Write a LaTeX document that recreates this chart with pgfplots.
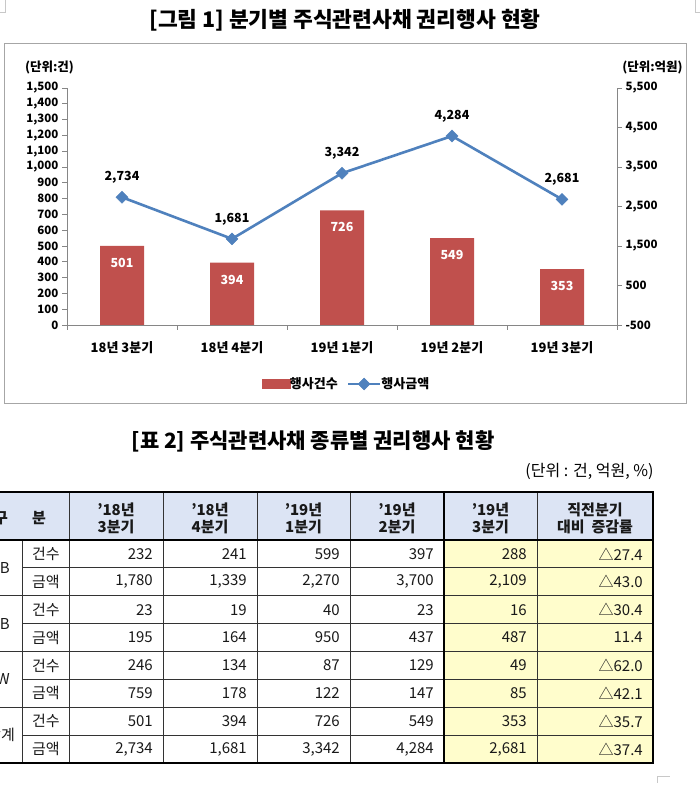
\documentclass[border=0pt]{standalone}
\usepackage{pgfplots}
\pgfplotsset{compat=1.18}
\usepackage{fontspec}
\setmainfont{Noto Sans CJK KR}

\definecolor{barred}{HTML}{C0504D}
\definecolor{lineblue}{HTML}{4F81BD}
\definecolor{axisgray}{HTML}{868686}
\definecolor{framegray}{HTML}{A6A6A6}
\definecolor{headblue}{HTML}{DCE4F4}
\definecolor{hiyellow}{HTML}{FFFDCC}
\definecolor{cornergray}{HTML}{C8C8C8}

\newcommand{\fs}[1]{\fontsize{#1}{#1}\selectfont}

\pgfplotsset{
  amountlegend/.style={
    legend image code/.code={%
      \draw[mark repeat=2, mark phase=2, ##1]
        plot coordinates {(0pt,0pt) (16pt,0pt) (32pt,0pt)};}},
  countlegend/.style={
    legend image code/.code={%
      \fill[barred] (0pt,-4.5pt) rectangle (28pt,4.5pt);}},
}

% one body row of the table: y centre, row label, six values
\newcommand{\trow}[8]{%
  \node at (45.85pt,#1pt) {#2};
  \node[anchor=east] at (153pt,#1pt) {#3};
  \node[anchor=east] at (247pt,#1pt) {#4};
  \node[anchor=east] at (340pt,#1pt) {#5};
  \node[anchor=east] at (434pt,#1pt) {#6};
  \node[anchor=east] at (527pt,#1pt) {#7};
  \node[anchor=east] at (643pt,#1pt) {#8};
}

\begin{document}
\begin{tikzpicture}[x=1pt,y=1pt]
\path[use as bounding box, fill=white] (0,0) rectangle (700,799);
\begin{scope}
\clip (0,0) rectangle (700,799);

% page corner marks
\draw[cornergray, line width=0.8pt] (0,787) -- (5,787) -- (5,799);
\draw[cornergray, line width=0.8pt] (695,799) -- (695,787) -- (700,787);
\draw[cornergray, line width=0.8pt] (657,16) -- (657,23) -- (670,23);

% ---------------- figure ----------------
\node[font=\bfseries\fs{21.5}] at (345,779) {[그림 1] 분기별 주식관련사채 권리행사 현황};
\draw[framegray, line width=1pt] (4,395) rectangle (686,755);

\node[font=\bfseries\fs{12.5}] at (49.5,731) {(단위:건)};
\node[font=\bfseries\fs{12.5}] at (652.5,731) {(단위:억원)};

\pgfplotsset{
  /pgf/number format/assume math mode=true,
  /pgf/number format/1000 sep={,},
}

% exercise counts (left axis)
\begin{axis}[
  at={(67pt,474pt)}, anchor=south west,
  scale only axis, width=550pt, height=237pt,
  xmin=-0.5, xmax=4.5, ymin=0, ymax=1500,
  axis x line*=bottom, axis y line*=left,
  axis line style={draw=axisgray, line width=0.8pt},
  tick align=outside,
  major tick length=5pt, minor tick length=5pt,
  ytick={0,100,...,1500},
  y tick style={draw=axisgray, line width=0.8pt},
  scaled y ticks=false,
  yticklabel style={font=\bfseries\fs{11.5}, text=black},
  xtick={0,1,2,3,4},
  xticklabels={18년 3분기, 18년 4분기, 19년 1분기, 19년 2분기, 19년 3분기},
  major x tick style={draw=none},
  minor xtick={-0.5,0.5,1.5,2.5,3.5,4.5},
  minor x tick style={draw=axisgray, line width=0.8pt},
  xticklabel style={font=\bfseries\fs{13}, text=black, yshift=-8pt},
  clip=false,
]
\addplot[ybar, bar width=44pt, fill=barred, draw=none,
  nodes near coords,
  nodes near coords style={font=\bfseries\fs{12.5}, text=white, anchor=center, yshift=-17pt}]
  coordinates {(0,501) (1,394) (2,726) (3,549) (4,353)};
\end{axis}

% exercise amounts (right axis)
\begin{axis}[
  at={(67pt,474pt)}, anchor=south west,
  scale only axis, width=550pt, height=237pt,
  xmin=-0.5, xmax=4.5, ymin=-500, ymax=5500,
  axis x line=none, axis y line*=right,
  axis line style={draw=axisgray, line width=0.8pt},
  tick align=outside, major tick length=5pt,
  ytick={-500,500,...,5500},
  y tick style={draw=axisgray, line width=0.8pt},
  scaled y ticks=false,
  yticklabel style={font=\bfseries\fs{11.5}, text=black},
  xtick=\empty,
  clip=false,
  legend style={at={(0.508,-0.249)}, anchor=center, draw=none, fill=none,
    font=\bfseries\fs{13}, legend columns=-1,
    /tikz/every odd column/.append style={column sep=-2pt},
    /tikz/every even column/.append style={column sep=7pt}},
]
\addlegendimage{countlegend}
\addlegendentry{행사건수}
\addplot[lineblue, line width=2.6pt, mark=square*, mark size=4.2pt,
  mark options={rotate=45, fill=lineblue, draw=lineblue, line width=0.5pt},
  nodes near coords,
  nodes near coords style={font=\bfseries\fs{12.5}, text=black, anchor=center, yshift=20pt},
  amountlegend]
  coordinates {(0,2734) (1,1681) (2,3342) (3,4284) (4,2681)};
\addlegendentry{행사금액}
\end{axis}

% ---------------- table ----------------
\node[font=\bfseries\fs{21}] at (313,358) {[표 2] 주식관련사채 종류별 권리행사 현황};
\node[font=\fs{16}, anchor=east] at (657,328) {(단위 : 건, 억원, \%)};

\fill[headblue] (0,259) rectangle (653,307);
\fill[hiyellow] (444,36) rectangle (653,259);

% inner horizontal rules
\foreach \yy in {231.125,175.375,119.625,63.875}
  \draw[black!80, line width=0.8pt] (22.7,\yy) -- (653,\yy);
\foreach \yy in {203.25,147.5,91.75}
  \draw[black!80, line width=0.8pt] (0,\yy) -- (653,\yy);
% vertical rules
\draw[black!80, line width=0.8pt] (22.7,36) -- (22.7,259);
\foreach \xx in {69,163,257,350,537}
  \draw[black!80, line width=0.8pt] (\xx,36) -- (\xx,307);
% outer rules
\draw[black, line width=1.4pt] (0,259) -- (653,259);
\draw[black, line width=2pt] (0,307) -- (653,307);
\draw[black, line width=2pt] (0,36) -- (653,36);
\draw[black, line width=2.6pt] (444,36) rectangle (653,307);

% header
\begin{scope}[every node/.style={font=\bfseries\fontsize{15}{17}\selectfont, align=center, text=black!90}]
\node at (1,281) {구};
\node at (39,281) {분};
\node at (116,280.5) {’18년\\3분기};
\node at (210,280.5) {’18년\\4분기};
\node at (303.5,280.5) {’19년\\1분기};
\node at (397,280.5) {’19년\\2분기};
\node at (490.5,280.5) {’19년\\3분기};
\node at (595,280.5) {직전분기\\대비\ \ 증감률};
\end{scope}

% body
\begin{scope}[every node/.style={font=\fs{15}, text=black!90, inner sep=0pt}]
\node[anchor=east] at (10,231.125) {CB};
\node[anchor=east] at (10,175.375) {EB};
\node[anchor=east] at (10,119.625) {BW};
\node[anchor=east] at (15,63.875) {합계};
\trow{245.06}{건수}{232}{241}{599}{397}{288}{△27.4}
\trow{217.19}{금액}{1,780}{1,339}{2,270}{3,700}{2,109}{△43.0}
\trow{189.31}{건수}{23}{19}{40}{23}{16}{△30.4}
\trow{161.44}{금액}{195}{164}{950}{437}{487}{11.4}
\trow{133.56}{건수}{246}{134}{87}{129}{49}{△62.0}
\trow{105.69}{금액}{759}{178}{122}{147}{85}{△42.1}
\trow{77.81}{건수}{501}{394}{726}{549}{353}{△35.7}
\trow{49.94}{금액}{2,734}{1,681}{3,342}{4,284}{2,681}{△37.4}
\end{scope}

\end{scope}
\end{tikzpicture}
\end{document}
